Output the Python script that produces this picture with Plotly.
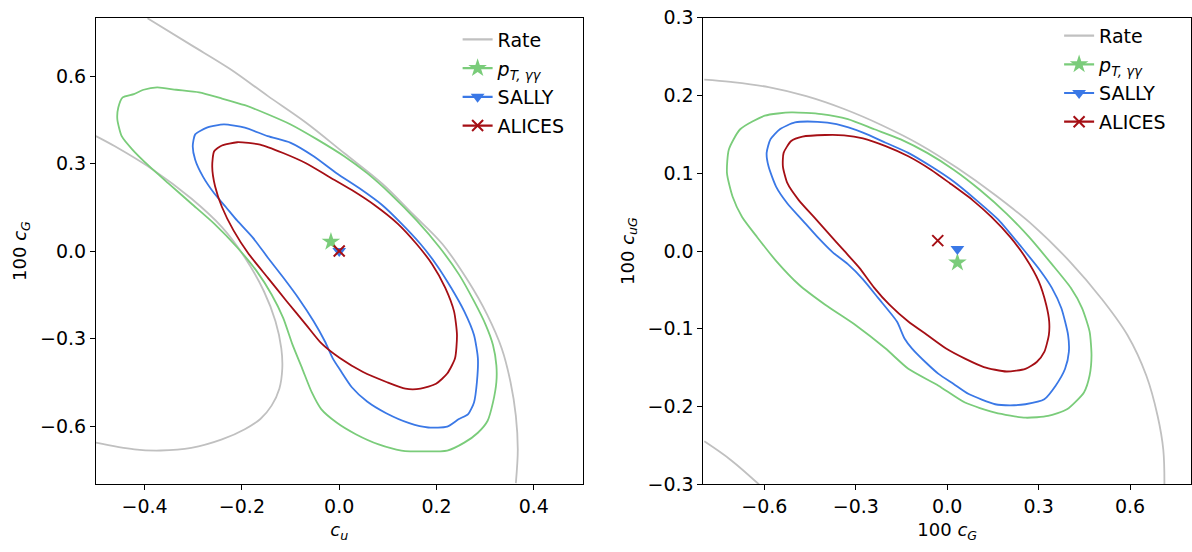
import plotly.graph_objects as go

# ---------------- left panel: (c_u, 100 c_G) ----------------
rate_outer_l_x = [-0.394, -0.304, -0.225, -0.147, -0.068, 0.010, 0.089, 0.151, 0.212, 0.265, 0.304, 0.334, 0.352, 0.363, 0.367, 0.363]
rate_outer_l_y = [0.798, 0.706, 0.625, 0.532, 0.440, 0.336, 0.230, 0.127, 0.024, -0.103, -0.218, -0.334, -0.449, -0.565, -0.680, -0.796]
rate_inner_l_x = [-0.5, -0.461, -0.382, -0.304, -0.241, -0.194, -0.155, -0.131, -0.119, -0.117, -0.123, -0.139, -0.162, -0.194, -0.241, -0.304, -0.367, -0.421, -0.5]
rate_inner_l_y = [0.394, 0.359, 0.278, 0.180, 0.082, -0.022, -0.137, -0.241, -0.334, -0.403, -0.472, -0.530, -0.576, -0.611, -0.646, -0.675, -0.684, -0.680, -0.657]

pt_l_x = [-0.374, -0.335, -0.288, -0.241, -0.194, -0.147, -0.0997, -0.0447, 0.0102, 0.0573, 0.104, 0.159, 0.206, 0.246, 0.277, 0.301, 0.316, 0.323, 0.323, 0.316, 0.305, 0.285, 0.257, 0.222, 0.175, 0.128, 0.081, 0.034, -0.0055, -0.037, -0.0565, -0.076, -0.0958, -0.115, -0.139, -0.170, -0.210, -0.257, -0.304, -0.351, -0.390, -0.425, -0.447, -0.456, -0.454, -0.445, -0.422, -0.402, -0.374]
pt_l_y = [0.561, 0.553, 0.544, 0.523, 0.500, 0.469, 0.434, 0.382, 0.325, 0.267, 0.198, 0.105, 0.013, -0.080, -0.172, -0.253, -0.322, -0.392, -0.449, -0.519, -0.582, -0.623, -0.657, -0.684, -0.687, -0.684, -0.663, -0.628, -0.588, -0.542, -0.484, -0.403, -0.322, -0.230, -0.149, -0.068, 0.013, 0.094, 0.163, 0.232, 0.290, 0.348, 0.394, 0.452, 0.492, 0.527, 0.538, 0.553, 0.561]

sally_l_x = [-0.237, -0.194, -0.147, -0.0997, -0.0526, -0.0055, 0.0416, 0.0887, 0.128, 0.167, 0.199, 0.230, 0.257, 0.277, 0.285, 0.283, 0.277, 0.265, 0.246, 0.222, 0.183, 0.144, 0.0966, 0.0573, 0.0259, 0.0024, -0.0133, -0.029, -0.0526, -0.084, -0.115, -0.147, -0.178, -0.210, -0.233, -0.257, -0.280, -0.296, -0.301, -0.296, -0.272, -0.237]
sally_l_y = [0.434, 0.423, 0.394, 0.371, 0.325, 0.267, 0.215, 0.157, 0.094, 0.024, -0.045, -0.126, -0.207, -0.288, -0.368, -0.449, -0.519, -0.559, -0.576, -0.602, -0.605, -0.590, -0.556, -0.516, -0.467, -0.409, -0.368, -0.311, -0.241, -0.161, -0.091, -0.022, 0.047, 0.105, 0.151, 0.198, 0.255, 0.313, 0.359, 0.400, 0.423, 0.434]

alices_l_x = [-0.2096, -0.1625, -0.1154, -0.0683, -0.0212, 0.0259, 0.073, 0.120, 0.159, 0.191, 0.218, 0.236, 0.242, 0.238, 0.222, 0.199, 0.167, 0.136, 0.097, 0.049, 0.002, -0.037, -0.068, -0.108, -0.147, -0.186, -0.217, -0.241, -0.255, -0.261, -0.257, -0.241, -0.2096]
alices_l_y = [0.373, 0.365, 0.336, 0.301, 0.255, 0.209, 0.157, 0.094, 0.024, -0.045, -0.126, -0.207, -0.288, -0.368, -0.420, -0.455, -0.472, -0.472, -0.449, -0.415, -0.368, -0.316, -0.253, -0.172, -0.091, -0.010, 0.070, 0.151, 0.221, 0.290, 0.342, 0.362, 0.373]

best_l = {"pt": (-0.017, 0.032), "sally": (0.0, 0.0), "alices": (0.0, 0.0)}

# ---------------- right panel: (100 c_G, 100 c_uG) ----------------
rate_outer_r_x = [-0.797, -0.7103, -0.5863, -0.4624, -0.3384, -0.2145, -0.0905, 0.0335, 0.1574, 0.2814, 0.4054, 0.5045, 0.5913, 0.6533, 0.6905, 0.7091, 0.7128]
rate_outer_r_y = [0.2204, 0.2174, 0.2108, 0.1991, 0.1826, 0.1618, 0.1371, 0.1067, 0.0720, 0.0330, -0.0148, -0.0603, -0.1080, -0.1601, -0.2121, -0.2555, -0.3002]
rate_inner_r_x = [-0.797, -0.7103, -0.6173]
rate_inner_r_y = [-0.2447, -0.2686, -0.3002]

pt_r_x = [-0.5120, -0.4128, -0.3260, -0.2392, -0.1525, -0.0657, 0.0211, 0.1078, 0.1946, 0.2690, 0.3434, 0.4054, 0.4425, 0.4673, 0.4735, 0.4673, 0.4487, 0.3930, 0.3310, 0.2566, 0.1574, 0.0583, -0.0285, -0.1277, -0.2021, -0.3012, -0.4004, -0.4872, -0.5616, -0.6235, -0.6731, -0.7041, -0.7227, -0.7165, -0.6793, -0.5987, -0.5120]
pt_r_y = [0.1783, 0.1761, 0.1696, 0.1566, 0.1436, 0.1262, 0.1046, 0.0785, 0.0482, 0.0178, -0.0169, -0.0473, -0.0733, -0.1037, -0.1341, -0.1601, -0.1818, -0.2035, -0.2121, -0.2143, -0.2078, -0.1948, -0.1731, -0.1514, -0.1254, -0.0950, -0.0690, -0.0430, -0.0126, 0.0178, 0.0438, 0.0698, 0.1002, 0.1306, 0.1566, 0.1740, 0.1783]

sally_r_x = [-0.4996, -0.4252, -0.3632, -0.2764, -0.2021, -0.1277, -0.0533, 0.0211, 0.0955, 0.1698, 0.2442, 0.3062, 0.3434, 0.3744, 0.3967, 0.3992, 0.3868, 0.3558, 0.3186, 0.2566, 0.2194, 0.1574, 0.0707, 0.0211, -0.0285, -0.0657, -0.1153, -0.1401, -0.1649, -0.2268, -0.2764, -0.3260, -0.3756, -0.4252, -0.4748, -0.5244, -0.5616, -0.5863, -0.5925, -0.5801, -0.5492, -0.4996]
sally_r_y = [0.1653, 0.1662, 0.1631, 0.1523, 0.1393, 0.1262, 0.1089, 0.0894, 0.0655, 0.0395, 0.0048, -0.0256, -0.0473, -0.0733, -0.1080, -0.1297, -0.1514, -0.1731, -0.1905, -0.1970, -0.1983, -0.1970, -0.1839, -0.1709, -0.1579, -0.1449, -0.1254, -0.1124, -0.0907, -0.0603, -0.0364, -0.0169, -0.0017, 0.0178, 0.0395, 0.0612, 0.0829, 0.1089, 0.1262, 0.1436, 0.1566, 0.1653]

alices_r_x = [-0.4004, -0.3384, -0.2764, -0.2021, -0.1277, -0.0533, 0.0087, 0.0831, 0.1450, 0.2070, 0.2566, 0.3000, 0.3248, 0.3347, 0.3335, 0.3186, 0.2938, 0.2566, 0.1946, 0.1202, 0.0583, -0.0037, -0.0657, -0.1277, -0.1897, -0.2392, -0.2888, -0.3384, -0.3880, -0.4376, -0.4872, -0.5244, -0.5392, -0.5368, -0.5120, -0.4748, -0.4004]
alices_r_y = [0.1492, 0.1488, 0.1449, 0.1349, 0.1219, 0.1046, 0.0872, 0.0655, 0.0438, 0.0178, -0.0082, -0.0386, -0.0690, -0.0907, -0.1080, -0.1297, -0.1427, -0.1514, -0.1549, -0.1492, -0.1384, -0.1254, -0.1080, -0.0907, -0.0690, -0.0473, -0.0213, 0.0004, 0.0221, 0.0438, 0.0655, 0.0872, 0.1089, 0.1262, 0.1414, 0.1471, 0.1492]

best_r = {"pt": (0.0335, -0.0148), "sally": (0.0335, 0.0026), "alices": (-0.031, 0.0134)}

# ---------------- styling ----------------
GRAY = "#c0c0c0"
GREEN = "#7acc7a"
BLUE = "#3a78e6"
RED = "#a50f15"
LW = 1.8
FONT = "DejaVu Sans"

series = [
    ("pt", "<i>p</i><sub><i>T, γγ</i></sub>", GREEN, dict(symbol="star", size=14)),
    ("sally", "SALLY", BLUE, dict(symbol="triangle-down", size=12)),
    ("alices", "ALICES", RED, dict(symbol="x-thin-open", size=11, line=dict(width=2, color=RED))),
]

fig = go.Figure()

panels = [
    ("x", "y", "legend", [(rate_outer_l_x, rate_outer_l_y), (rate_inner_l_x, rate_inner_l_y)],
     {"pt": (pt_l_x, pt_l_y), "sally": (sally_l_x, sally_l_y), "alices": (alices_l_x, alices_l_y)}, best_l),
    ("x2", "y2", "legend2", [(rate_outer_r_x, rate_outer_r_y), (rate_inner_r_x, rate_inner_r_y)],
     {"pt": (pt_r_x, pt_r_y), "sally": (sally_r_x, sally_r_y), "alices": (alices_r_x, alices_r_y)}, best_r),
]

for xa, ya, lg, rate_curves, contours, best in panels:
    # legend entries (line + marker), one group each so the gap spaces them out
    fig.add_trace(go.Scatter(x=[None], y=[None], mode="lines", name="Rate",
                             line=dict(color=GRAY, width=2.2), xaxis=xa, yaxis=ya,
                             legend=lg, legendgroup=lg + "rate"))
    for key, label, col, mk in series:
        fig.add_trace(go.Scatter(x=[None], y=[None], mode="lines+markers", name=label,
                                 line=dict(color=col, width=2.2), marker=dict(color=col, **mk),
                                 xaxis=xa, yaxis=ya, legend=lg, legendgroup=lg + key))
    # rate band
    for cx, cy in rate_curves:
        fig.add_trace(go.Scatter(x=cx, y=cy, mode="lines", line=dict(color=GRAY, width=LW, shape="spline"),
                                 showlegend=False, xaxis=xa, yaxis=ya, hoverinfo="skip"))
    # contours
    for key, label, col, mk in series:
        cx, cy = contours[key]
        fig.add_trace(go.Scatter(x=cx, y=cy, mode="lines",
                                 line=dict(color=col, width=LW, shape="spline", smoothing=0.6),
                                 showlegend=False, xaxis=xa, yaxis=ya, hoverinfo="skip"))
    # best-fit points
    for key, label, col, mk in series:
        bx, by = best[key]
        fig.add_trace(go.Scatter(x=[bx], y=[by], mode="markers", marker=dict(color=col, **mk),
                                 showlegend=False, xaxis=xa, yaxis=ya, hoverinfo="skip"))

axis_common = dict(showgrid=False, zeroline=False, showline=True, linecolor="black", linewidth=1,
                   mirror=True, ticks="outside", ticklen=5, tickwidth=1, tickcolor="black",
                   tickformat=".1f", ticklabeloverflow="allow",
                   tickfont=dict(family=FONT, size=19, color="black"))
title_font = dict(family=FONT, size=18, color="black")
legend_common = dict(xanchor="left", yanchor="top", bgcolor="rgba(255,255,255,0)",
                     font=dict(family=FONT, size=19, color="black"), tracegroupgap=1, itemwidth=30)

fig.update_layout(
    width=1192, height=552,
    margin=dict(l=0, r=0, t=0, b=0),
    paper_bgcolor="white", plot_bgcolor="white",
    font=dict(family=FONT, color="black"),
    xaxis=dict(domain=[96 / 1192, 583 / 1192], range=[-0.5, 0.5], dtick=0.2, tick0=0,
               title=dict(text="<i>c</i><sub><i>u</i></sub>", font=title_font, standoff=7),
               anchor="y", **axis_common),
    yaxis=dict(domain=[1 - 493 / 552, 1 - 7 / 552], range=[-0.8, 0.8], dtick=0.3, tick0=0,
               title=dict(text="100 <i>c</i><sub><i>G</i></sub>", font=title_font, standoff=8),
               anchor="x", **axis_common),
    xaxis2=dict(domain=[704 / 1192, 1.0], range=[-0.8, 0.8], dtick=0.3, tick0=0,
                title=dict(text="100 <i>c</i><sub><i>G</i></sub>", font=title_font, standoff=7),
                anchor="y2", **axis_common),
    yaxis2=dict(domain=[1 - 493 / 552, 1 - 7 / 552], range=[-0.3, 0.3], dtick=0.1, tick0=0,
                title=dict(text="100 <i>c</i><sub><i>uG</i></sub>", font=title_font, standoff=8),
                anchor="x2", **axis_common),
    legend=dict(x=458 / 1192, y=1 - 10 / 552, **legend_common),
    legend2=dict(x=1060 / 1192, y=1 - 6 / 552, **legend_common),
)

fig.write_html("out.html")
